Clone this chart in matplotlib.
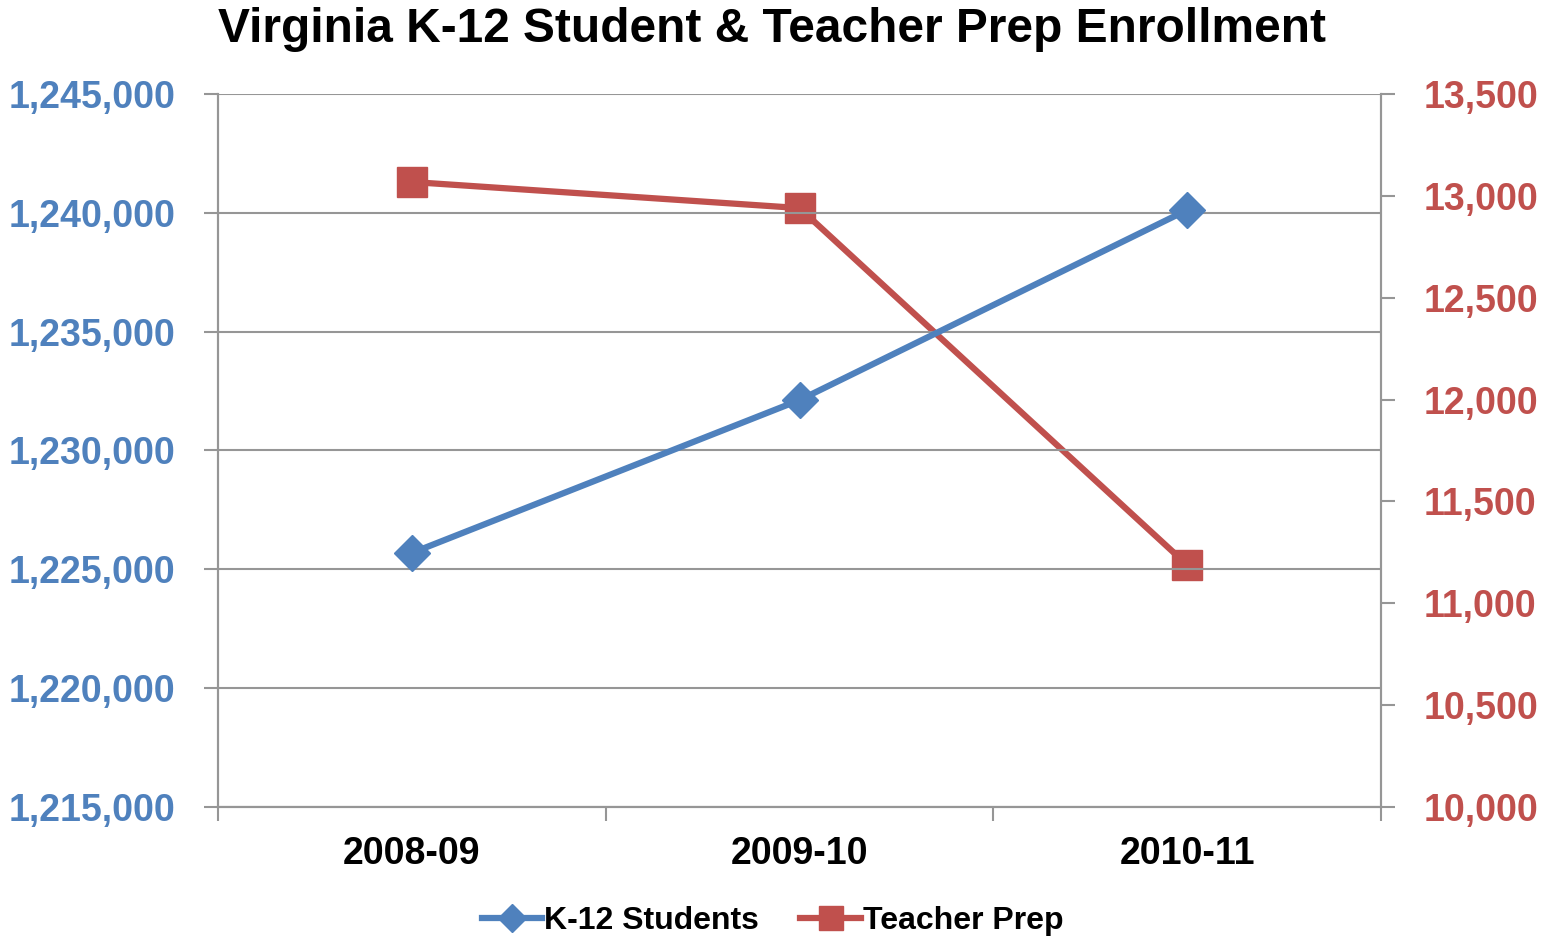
import matplotlib.pyplot as plt
from matplotlib.ticker import FuncFormatter

plt.rcParams['font.family'] = ['Liberation Sans', 'DejaVu Sans']
plt.rcParams['font.weight'] = 'bold'

years = ['2008-09', '2009-10', '2010-11']
k12_students = [1225690, 1232120, 1240120]
teacher_prep = [13068, 12940, 11188]

blue = '#4F81BD'
red = '#C0504D'
grid_c = '#969696'

fig = plt.figure(figsize=(15.45, 9.36), dpi=100)
ax = fig.add_axes([0.1411, 0.1378, 0.7528, 0.7618])
ax2 = ax.twinx()

x = list(range(len(years)))
l1, = ax.plot(x, k12_students, color=blue, lw=4.5, marker='D', ms=18,
              mfc=blue, mec=blue, label='K-12 Students', zorder=3)
l2, = ax2.plot(x, teacher_prep, color=red, lw=4.5, marker='s', ms=22,
               mfc=red, mec=red, label='Teacher Prep', zorder=3)

ax.set_xlim(-0.5, 2.5)
ax.set_ylim(1215000, 1245000)
ax.set_yticks(range(1215000, 1245001, 5000))
ax2.set_ylim(10000, 13500)
ax2.set_yticks(range(10000, 13501, 500))

fmt = FuncFormatter(lambda v, p: f'{int(v):,}')
ax.yaxis.set_major_formatter(fmt)
ax2.yaxis.set_major_formatter(fmt)

ax.set_xticks(x)
ax.set_xticklabels(years, fontsize=27, fontweight='bold')
ax.set_xticks([-0.5, 0.5, 1.5, 2.5], minor=True)
ax.tick_params(axis='x', which='major', length=0, pad=21)
ax.tick_params(axis='x', which='minor', length=10, width=1.5, color=grid_c)

ax.tick_params(axis='y', labelsize=27, labelcolor=blue, length=10, width=1.5,
               color=grid_c, pad=20.5)
ax2.tick_params(axis='y', labelsize=27, labelcolor=red, length=10, width=1.5,
                color=grid_c, pad=20.5)
for lab in ax.get_yticklabels() + ax2.get_yticklabels():
    lab.set_fontweight('bold')

ax.grid(axis='y', color=grid_c, lw=1.5)
ax.set_axisbelow(True)
for a in (ax, ax2):
    a.spines['top'].set_visible(False)
    for s in ('left', 'right', 'bottom'):
        a.spines[s].set_color(grid_c)
        a.spines[s].set_linewidth(1.5)

ax.set_zorder(ax2.get_zorder() + 1)
ax.patch.set_visible(False)

fig.suptitle('Virginia K-12 Student & Teacher Prep Enrollment', fontsize=34.5,
             fontweight='bold', y=0.992)

fig.legend(handles=[l1, l2], loc='lower center', ncol=2, frameon=False,
           fontsize=23, bbox_to_anchor=(0.5, -0.031), handlelength=1.9,
           handletextpad=0.05, columnspacing=1.3, markerscale=0.8)

plt.savefig('out.png', dpi=100)
